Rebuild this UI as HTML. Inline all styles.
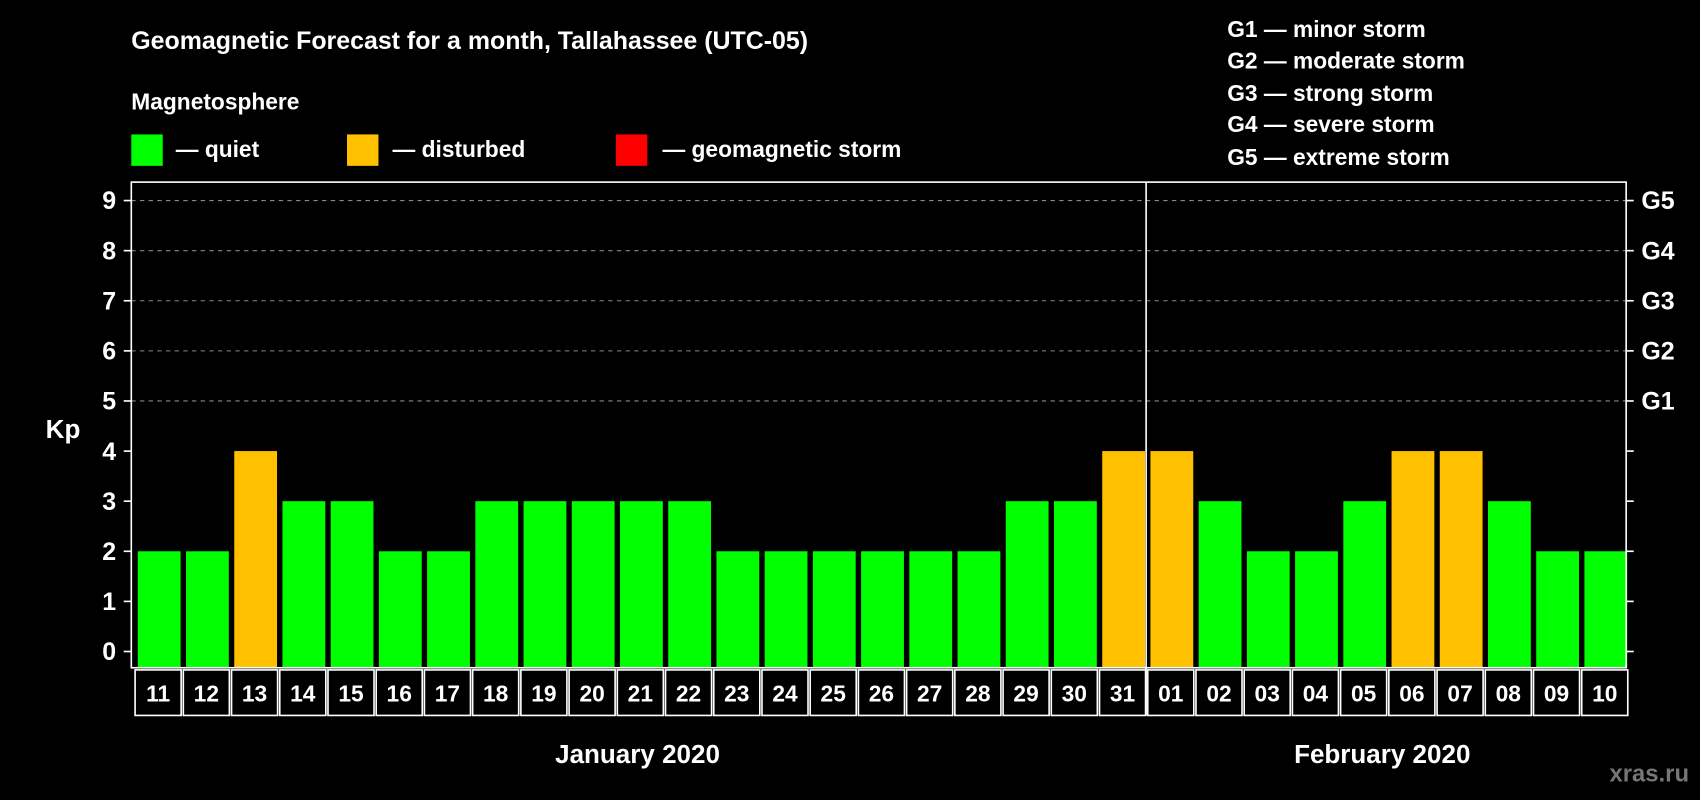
<!DOCTYPE html>
<html><head><meta charset="utf-8"><style>
html,body{margin:0;padding:0;background:#000;}
svg{display:block;font-family:"Liberation Sans",sans-serif;font-weight:bold;}
</style></head><body>
<svg id="chart" width="1700" height="800" viewBox="0 0 1568 738" xmlns="http://www.w3.org/2000/svg">
<rect x="0" y="0" width="1568" height="738" fill="#000"/>
<text x="121" y="45" fill="#fff" font-size="23">Geomagnetic Forecast for a month, Tallahassee (UTC-05)</text>
<text x="121" y="101" fill="#fff" font-size="21">Magnetosphere</text>
<g>
<rect x="121" y="124" width="29" height="29" fill="#00ff00"/>
<text x="162" y="145" fill="#fff" font-size="21">— quiet</text>
<rect x="320" y="124" width="29" height="29" fill="#ffc000"/>
<text x="362" y="145" fill="#fff" font-size="21">— disturbed</text>
<rect x="568" y="124" width="29" height="29" fill="#ff0000"/>
<text x="611" y="145" fill="#fff" font-size="21">— geomagnetic storm</text>
</g>
<g fill="#fff" font-size="21">
<text x="1132" y="34">G1 — minor storm</text>
<text x="1132" y="63">G2 — moderate storm</text>
<text x="1132" y="93">G3 — strong storm</text>
<text x="1132" y="122">G4 — severe storm</text>
<text x="1132" y="152">G5 — extreme storm</text>
</g>
<text x="58" y="404" fill="#fff" font-size="24" text-anchor="middle">Kp</text>
<g id="grid"></g>
<g id="bars"></g>
<g id="axes"></g>
<text x="588" y="704" fill="#fff" font-size="24" text-anchor="middle">January 2020</text>
<text x="1275" y="704" fill="#fff" font-size="24" text-anchor="middle">February 2020</text>
<text x="1558" y="721" fill="#777" font-size="22" text-anchor="end">xras.ru</text>
</svg>
<script>
const days = ["11","12","13","14","15","16","17","18","19","20","21","22","23","24","25","26","27","28","29","30","31","01","02","03","04","05","06","07","08","09","10"];
const kpValues = [2,2,4,3,3,2,2,3,3,3,3,3,2,2,2,2,2,2,3,3,4,4,3,2,2,3,4,4,3,2,2];
const yTicks = [0,1,2,3,4,5,6,7,8,9];
const gLabels = ["","","","","","G1","G2","G3","G4","G5"];
const monthBreakIndex = 21;
const NS = "http://www.w3.org/2000/svg";
const L = 121, R = 1500, T = 168, B = 616;
const y0 = 601, unit = 46.22;
const yScale = v => y0 - v * unit;
const step = (R - L) / days.length;
const xScale = i => L + step * i;
function mk(tag, attrs, parent) {
  const e = document.createElementNS(NS, tag);
  for (const k in attrs) e.setAttribute(k, attrs[k]);
  parent.appendChild(e);
  return e;
}
const grid = document.getElementById('grid');
const bars = document.getElementById('bars');
const axes = document.getElementById('axes');
yTicks.forEach((t, i) => {
  const y = yScale(t);
  if (t >= 5) {
    const gl = mk('line', {x1: L, x2: R, y1: y, y2: y, stroke: '#888', 'stroke-dasharray': '4,4', 'stroke-width': 1}, grid);
    
    
  }
  const tl = mk('line', {x1: L - 7, x2: L, y1: y, y2: y, stroke: '#fff', 'stroke-width': 1.5}, axes);
  
  
  const tr = mk('line', {x1: R, x2: R + 7, y1: y, y2: y, stroke: '#fff', 'stroke-width': 1.5}, axes);
  
  
  const lab = mk('text', {x: L - 14, y: y + 8, fill: '#fff', 'font-size': 23, 'text-anchor': 'end'}, axes);
  lab.textContent = t;
  
  
  if (gLabels[i]) {
    const g = mk('text', {x: R + 14, y: y + 8, fill: '#fff', 'font-size': 23}, axes);
    g.textContent = gLabels[i];
    
    
  }
});
kpValues.forEach((v, i) => {
  const color = v >= 5 ? '#ff0000' : (v >= 4 ? '#ffc000' : '#00ff00');
  const r = mk('rect', {x: xScale(i) + 6, y: yScale(v), width: step - 5, height: B - yScale(v), fill: color}, bars);
  
  
  const box = mk('rect', {x: xScale(i) + 3.5, y: 618, width: step - 2, height: 42, fill: 'none', stroke: '#fff', 'stroke-width': 1.5}, axes);
  
  
  const dl = mk('text', {x: xScale(i) + step / 2 + 2.5, y: 647, fill: '#fff', 'font-size': 21, 'text-anchor': 'middle'}, axes);
  dl.textContent = days[i];
  
  
});
const frame = mk('rect', {x: L, y: T, width: R - L, height: B - T, fill: 'none', stroke: '#fff', 'stroke-width': 1.5}, axes);


const bx = xScale(monthBreakIndex) + 2;
const mb = mk('line', {x1: bx, x2: bx, y1: T, y2: 660, stroke: '#fff', 'stroke-width': 1.5}, axes);


</script>
</body></html>
